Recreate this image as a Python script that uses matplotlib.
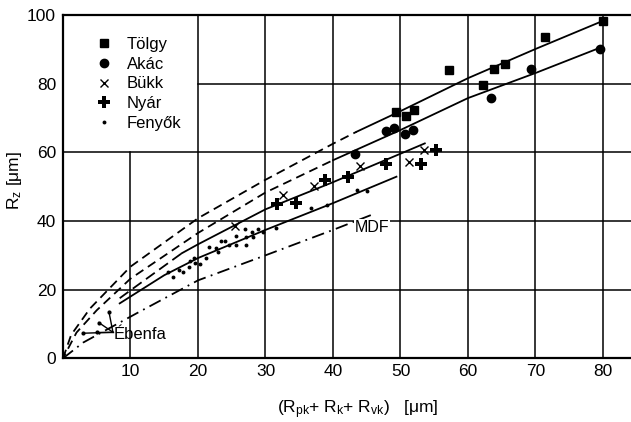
import matplotlib
matplotlib.use("Agg")
from matplotlib import pyplot as plt

plt.rcParams["font.family"] = ["Liberation Sans", "DejaVu Sans"]
plt.rcParams["mathtext.fontset"] = "custom"
plt.rcParams["mathtext.rm"] = "Liberation Sans"
plt.rcParams["mathtext.it"] = "Liberation Sans:italic"

# measured points, x = Rpk+Rk+Rvk [um], y = Rz [um]
tolgy_x = [49.4, 50.8, 52.0, 57.2, 62.2, 63.9, 65.5, 71.4, 80.0]
tolgy_y = [71.8, 70.6, 72.3, 84.0, 79.6, 84.2, 85.7, 93.5, 98.3]
akac_x = [43.3, 47.9, 49.0, 50.7, 51.9, 63.4, 69.4, 79.6]
akac_y = [59.6, 66.3, 67.2, 65.3, 66.6, 75.9, 84.3, 90.0]
bukk_x = [25.5, 32.6, 37.2, 44.0, 51.3, 53.5]
bukk_y = [38.5, 47.6, 50.1, 56.0, 57.2, 60.7]
nyar_x = [31.7, 34.5, 38.8, 42.2, 47.8, 53.1, 55.2]
nyar_y = [44.9, 45.1, 51.9, 52.8, 56.6, 56.7, 60.8]
fenyo_x = [15.6, 16.3, 17.2, 17.8, 18.6, 18.8, 19.4, 19.6, 20.3, 21.2,
           21.7, 22.7, 22.9, 23.4, 24.0, 24.6, 25.6, 25.6, 27.0, 27.1,
           27.1, 28.0, 28.2, 28.9, 29.6, 31.6, 36.8, 39.1, 43.5, 45.1]
fenyo_y = [25.2, 23.7, 25.7, 25.2, 26.6, 28.4, 29.3, 27.8, 27.6, 29.3,
           32.5, 32.0, 31.0, 34.2, 34.2, 32.9, 35.6, 32.9, 37.6, 35.2,
           33.1, 36.9, 35.2, 37.6, 36.9, 38.1, 43.9, 44.6, 49.0, 48.6]
eben_x = [3.0, 5.1, 5.3, 6.8]
eben_y = [7.3, 7.6, 10.4, 13.6]

# fitted curves (dashed = extrapolated part)
tolgy_fit_dash_x = [0, 1.2, 4, 10, 20, 30, 40, 43.5]
tolgy_fit_dash_y = [0, 6.8, 14.5, 26.7, 40.8, 52.0, 62.5, 66.0]
tolgy_fit_x = [43.5, 50, 60, 70, 80]
tolgy_fit_y = [66.0, 72.0, 81.6, 90.1, 98.3]
akac_fit_dash_x = [0, 2, 5, 10, 20, 30, 40]
akac_fit_dash_y = [0, 7.5, 14.0, 23.2, 36.5, 48.3, 57.7]
akac_fit_x = [40, 50, 60, 70, 79.6]
akac_fit_y = [57.7, 66.5, 75.8, 83.1, 90.5]
bukk_fit_dash_x = [8.4, 10, 17.6]
bukk_fit_dash_y = [17.5, 19.8, 30.6]
bukk_fit_x = [17.6, 20, 30, 40, 50, 53.6]
bukk_fit_y = [30.6, 33.2, 43.4, 51.3, 59.6, 62.6]
fenyo_fit_x = [8.4, 15, 20, 30, 40, 49.4]
fenyo_fit_y = [16.0, 24.2, 29.2, 37.4, 45.2, 52.9]
mdf_fit_x = [0, 3, 10.9, 20, 30, 40, 45.6]
mdf_fit_y = [0, 4.6, 13.1, 22.7, 30.0, 37.4, 41.7]

fig = plt.figure(figsize=(6.31, 4.22), dpi=100)
ax = fig.add_axes([63 / 631, 1 - 358.3 / 422, 1 - 63 / 631, (358.3 - 15) / 422])
XMAX = 84.15
ax.set_xlim(0, XMAX)
ax.set_ylim(0, 100)

# irregular grid (legend area left free)
glw = 1.1
for y in (20, 40, 60):
    ax.axhline(y, color="black", lw=glw, zorder=1)
ax.axhline(80, xmin=20 / XMAX, color="black", lw=glw, zorder=1)
ax.axvline(10, ymax=0.6, color="black", lw=glw, zorder=1)
for x in range(20, 90, 10):
    ax.axvline(x, color="black", lw=glw, zorder=1)

lw = 1.3
ax.plot(tolgy_fit_dash_x, tolgy_fit_dash_y, color="black", lw=lw, ls=(0, (5, 3)))
ax.plot(tolgy_fit_x, tolgy_fit_y, color="black", lw=lw)
ax.plot(akac_fit_dash_x, akac_fit_dash_y, color="black", lw=lw, ls=(2, (5, 3)))
ax.plot(akac_fit_x, akac_fit_y, color="black", lw=lw)
ax.plot(bukk_fit_dash_x, bukk_fit_dash_y, color="black", lw=lw, ls=(0, (6, 3)))
ax.plot(bukk_fit_x, bukk_fit_y, color="black", lw=lw)
ax.plot(fenyo_fit_x, fenyo_fit_y, color="black", lw=lw)
ax.plot(mdf_fit_x, mdf_fit_y, color="black", lw=lw, ls=(0, (7, 3, 1, 3)))

ax.plot(tolgy_x, tolgy_y, ls="none", marker="s", ms=5.6, color="black", label="Tölgy")
ax.plot(akac_x, akac_y, ls="none", marker="o", ms=6, color="black", label="Akác")
ax.plot(bukk_x, bukk_y, ls="none", marker="x", ms=5.5, mew=1.0, color="black", label="Bükk")
ax.plot(nyar_x, nyar_y, ls="none", marker="P", ms=8, mew=0, color="black", label="Nyár")
ax.plot(fenyo_x, fenyo_y, ls="none", marker="o", ms=2.8, mew=0, color="black", label="Fenyők")
ax.plot(eben_x, eben_y, ls="none", marker="o", ms=3, mew=0, color="black")

# Ébenfa pointer
lbl_x, lbl_y = 7.4, 7.6
for ex, ey in zip(eben_x, eben_y):
    ax.plot([ex, lbl_x], [ey, lbl_y], color="black", lw=1.0)
ax.text(lbl_x + 0.1, lbl_y - 0.6, "Ébenfa", fontsize=12, ha="left", va="center")
ax.text(mdf_fit_x[-1] - 2.4, mdf_fit_y[-1] - 3.6, "MDF", fontsize=11.5,
        ha="left", va="center", bbox=dict(fc="white", ec="none", pad=0.5))

leg = ax.legend(loc="upper left", bbox_to_anchor=(0.045, 0.955), frameon=False,
                fontsize=12, handlelength=1.0, handletextpad=0.9,
                labelspacing=0.28, numpoints=1, borderaxespad=0)

ax.set_xticks(range(10, 90, 10))
ax.set_yticks(range(0, 120, 20))
ax.tick_params(length=0, labelsize=12.5)
ax.tick_params(axis="y", pad=5)
ax.tick_params(axis="x", pad=4)
for side in ("top", "left", "bottom"):
    ax.spines[side].set_linewidth(1.6)
ax.spines["right"].set_visible(False)

fig.text(358 / 631, 1 - 410 / 422,
         r"(R$_{\mathrm{pk}}$+ R$_{\mathrm{k}}$+ R$_{\mathrm{vk}}$)   [μm]",
         fontsize=12.5, ha="center", va="center")
fig.text(15 / 631, 1 - 180 / 422, r"R$_{\mathrm{z}}$ [μm]", fontsize=12.5,
         rotation=90, ha="center", va="center")

fig.savefig("out.png", dpi=100)
